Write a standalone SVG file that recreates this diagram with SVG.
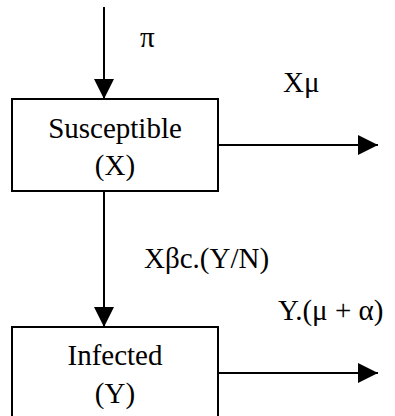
<svg xmlns="http://www.w3.org/2000/svg" width="395" height="416" viewBox="0 0 395 416">
<style>
.box{fill:#fff;stroke:#000;stroke-width:2}
.ln{stroke:#000;stroke-width:2;fill:none}
text{font-family:"Liberation Serif","Times New Roman",serif;font-size:29px;fill:#000}
.c{text-anchor:middle}
</style>
<defs>
<marker id="ah" markerUnits="userSpaceOnUse" markerWidth="20" markerHeight="20" refX="20" refY="10" orient="auto">
<path d="M0,0 L20,10 L0,20 Z" fill="#000"/>
</marker>
</defs>
<rect width="395" height="416" fill="#fff"/>
<g id="connectors">
<line class="ln" x1="104" y1="7" x2="104" y2="99" marker-end="url(#ah)"/>
<line class="ln" x1="218" y1="145" x2="378" y2="145" marker-end="url(#ah)"/>
<line class="ln" x1="104" y1="191" x2="104" y2="327" marker-end="url(#ah)"/>
<line class="ln" x1="218" y1="373" x2="378" y2="373" marker-end="url(#ah)"/>
<text x="140" y="47">π</text>
<text x="283" y="92">Xμ</text>
<text x="144" y="268">Xβc.(Y/N)</text>
<text x="278" y="320">Y.(μ + α)</text>
</g>
<g id="susceptible">
<rect class="box" x="12" y="99" width="206" height="92"/>
<text class="c" x="115" y="138">Susceptible</text>
<text class="c" x="115" y="175">(X)</text>
</g>
<g id="infected">
<rect class="box" x="12" y="327" width="206" height="100"/>
<text class="c" x="115" y="365">Infected</text>
<text class="c" x="115" y="403">(Y)</text>
</g>
</svg>
